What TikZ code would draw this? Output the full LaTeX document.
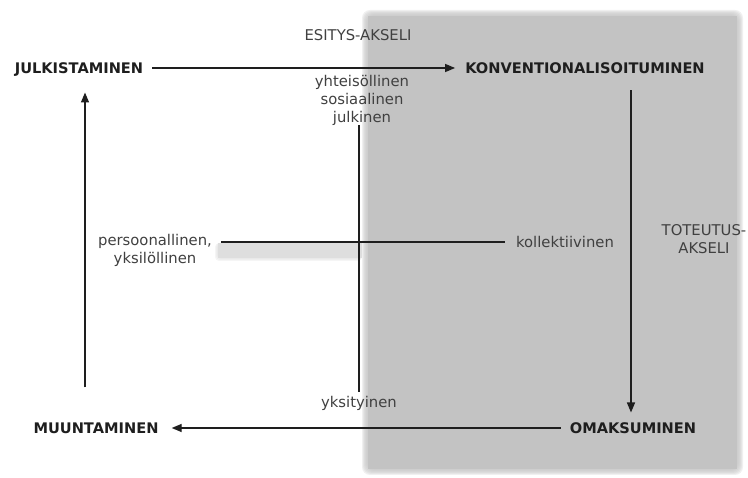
\documentclass[tikz,border=0pt]{standalone}
\usepackage{fontspec}
\setmainfont{DejaVu Sans}
\usetikzlibrary{positioning}
\usetikzlibrary{arrows.meta}
\definecolor{boxgray}{HTML}{C3C3C3}
\definecolor{ink}{HTML}{1E1E1E}

\begin{document}
\begin{tikzpicture}[x=1pt,y=-1pt,
  phase/.style={font=\fontsize{14.6}{17}\selectfont\bfseries,text=ink,inner sep=0pt,text height=10.6pt,text depth=0pt},
  pole/.style={font=\fontsize{14.8}{18}\selectfont,text=ink!85,align=center,inner sep=0pt},
  axis/.style={draw=ink,line width=1.3pt,-{Triangle[length=10pt,width=8pt]}},
  pline/.style={draw=ink,line width=1.1pt}]
 \useasboundingbox (0,0) rectangle (748,478);
 % grey field, soft edge
 \foreach \d in {6,...,1}
   \fill[boxgray,opacity=0.25,rounded corners=8] (368-\d,16-\d) rectangle (737+\d,469+\d);
 \fill[boxgray] (368,16) rectangle (737,469);
 \foreach \d in {3,...,1}
   \fill[black!13,opacity=0.3,rounded corners=4] (218-\d,243) rectangle (362,258+\d);
 \fill[black!13] (218,243) rectangle (362,258);

 \node[phase] (julk) at (79,68) {JULKISTAMINEN};
 \node[phase] (konv) at (585,68) {KONVENTIONALISOITUMINEN};
 \node[phase] (omak) at (633,428) {OMAKSUMINEN};
 \node[phase] (muun) at (96,428) {MUUNTAMINEN};

 \node[pole] (esit) at (358,35) {ESITYS-AKSELI};
 \node[pole] (tote) at (704,239) {TOTEUTUS-\\AKSELI};
 \node[pole] (yhte) at (362,100) {yhteisöllinen\\sosiaalinen\\julkinen};
 \node[pole] (yksi) at (359,403) {yksityinen};
 \node[pole] (pers) at (155,250) {persoonallinen,\\yksilöllinen};
 \node[pole] (koll) at (565,242) {kollektiivinen};

 \draw[axis] ([xshift=9pt]julk.east) -- ([xshift=-10pt]konv.west);
 \draw[axis] ([xshift=46pt,yshift=-17pt]konv.south) -- ([xshift=-2pt,yshift=10pt]omak.north);
 \draw[axis] ([xshift=-9pt]omak.west) -- ([xshift=13pt]muun.east);
 \draw[axis] ([xshift=-11pt,yshift=35pt]muun.north) -- ([xshift=6pt,yshift=-19pt]julk.south);

 \draw[pline] (yhte.south -| yksi.north) -- ([yshift=4pt]yksi.north);
 \draw[pline] ([xshift=9pt]pers.east |- koll.west) -- ([xshift=-11pt]koll.west);
\end{tikzpicture}
\end{document}
